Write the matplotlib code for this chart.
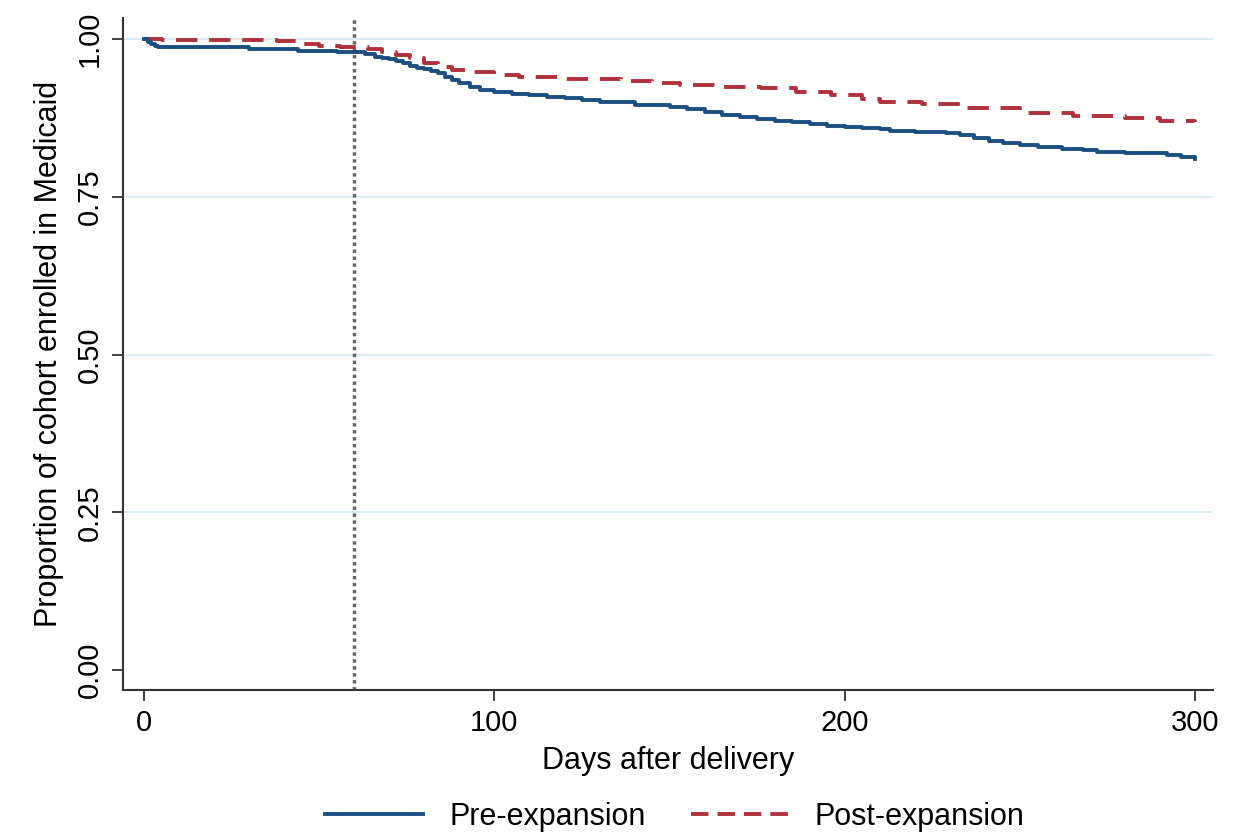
import matplotlib
matplotlib.use("Agg")
import matplotlib.pyplot as plt
from matplotlib.lines import Line2D

plt.rcParams['font.family'] = ['Liberation Sans', 'DejaVu Sans']

pre_days = [0, 1, 2, 3, 4, 15, 30, 44, 55, 60, 63, 66, 68, 70, 72, 74, 76, 78, 80, 82,
            84, 86, 88, 90, 93, 96, 100, 105, 110, 115, 120, 125, 130, 140, 150, 155, 160, 165, 170, 175,
            180, 185, 190, 195, 200, 205, 210, 213, 220, 229, 233, 237, 241, 245, 250, 255, 262, 268, 272, 280,
            287, 292, 296, 300]
pre_vals = [1.0, 0.996, 0.992, 0.989, 0.988, 0.987, 0.985, 0.982, 0.980, 0.979,
            0.976, 0.972, 0.970, 0.968, 0.965, 0.962, 0.958, 0.955, 0.952, 0.949,
            0.946, 0.940, 0.935, 0.930, 0.925, 0.920, 0.916, 0.913, 0.911, 0.909,
            0.906, 0.903, 0.900, 0.895, 0.892, 0.890, 0.884, 0.880, 0.877, 0.874,
            0.871, 0.868, 0.865, 0.863, 0.861, 0.859, 0.858, 0.854, 0.853, 0.852,
            0.848, 0.843, 0.838, 0.835, 0.832, 0.829, 0.826, 0.824, 0.821, 0.820,
            0.819, 0.816, 0.813, 0.810]

post_days = [0, 5, 38, 45, 50, 56, 60, 64, 68, 72, 76, 80, 84, 88, 93, 100, 107, 120, 136, 145,
             153, 165, 176, 186, 196, 205, 210, 222, 235, 250, 265, 280, 290, 300]
post_vals = [1.0, 0.998, 0.997, 0.993, 0.990, 0.988, 0.987, 0.984, 0.979, 0.975,
             0.970, 0.963, 0.956, 0.951, 0.948, 0.943, 0.940, 0.937, 0.933, 0.930,
             0.927, 0.924, 0.922, 0.917, 0.912, 0.905, 0.900, 0.897, 0.891, 0.883,
             0.879, 0.875, 0.871, 0.868]

cutoff_day = 60
x_ticks = [0, 100, 200, 300]
y_ticks = [0.0, 0.25, 0.5, 0.75, 1.0]
y_labels = ["0.00", "0.25", "0.50", "0.75", "1.00"]

blue = "#1b4f82"
red = "#b0313c"

fig = plt.figure(figsize=(12.35, 8.36), dpi=100)
ax = fig.add_axes([0.0996, 0.1746, 0.8824, 0.8034])

for yv in y_ticks[1:]:
    ax.axhline(yv, color="#d9e9f1", lw=1.3, zorder=0)

ax.axvline(cutoff_day, color="#666666", lw=2.5, ls=(0, (1, 1.0)), zorder=1)

ax.plot(pre_days, pre_vals, color=blue, lw=2.8, drawstyle="steps-post", zorder=3)
ax.plot(post_days, post_vals, color=red, lw=2.8, ls=(0, (5.5, 3)), drawstyle="steps-post", zorder=2)

ax.set_xlim(-6, 305)
ax.set_ylim(-0.032, 1.033)
ax.set_xticks(x_ticks)
ax.set_yticks(y_ticks)
ax.set_yticklabels(y_labels, rotation=90, va="center")
ax.tick_params(axis="both", direction="out", length=8, width=1.3, labelsize=21, pad=6, color="#333333")

for s in ["top", "right"]:
    ax.spines[s].set_visible(False)
for s in ["left", "bottom"]:
    ax.spines[s].set_linewidth(1.5)
    ax.spines[s].set_color("#333333")

ax.set_xlabel("Days after delivery", fontsize=22, labelpad=6)
ax.set_ylabel("Proportion of cohort enrolled in Medicaid", fontsize=22, labelpad=8)

handles = [Line2D([], [], color=blue, lw=2.8),
           Line2D([], [], color=red, lw=2.8, ls=(0, (4.5, 2.3)))]
fig.legend(handles, ["Pre-expansion", "Post-expansion"], loc="center",
           bbox_to_anchor=(0.5466, 0.023), ncol=2, frameon=False, fontsize=22,
           handlelength=3.2, columnspacing=1.5, handletextpad=0.85)

fig.savefig("out.png", dpi=100)
